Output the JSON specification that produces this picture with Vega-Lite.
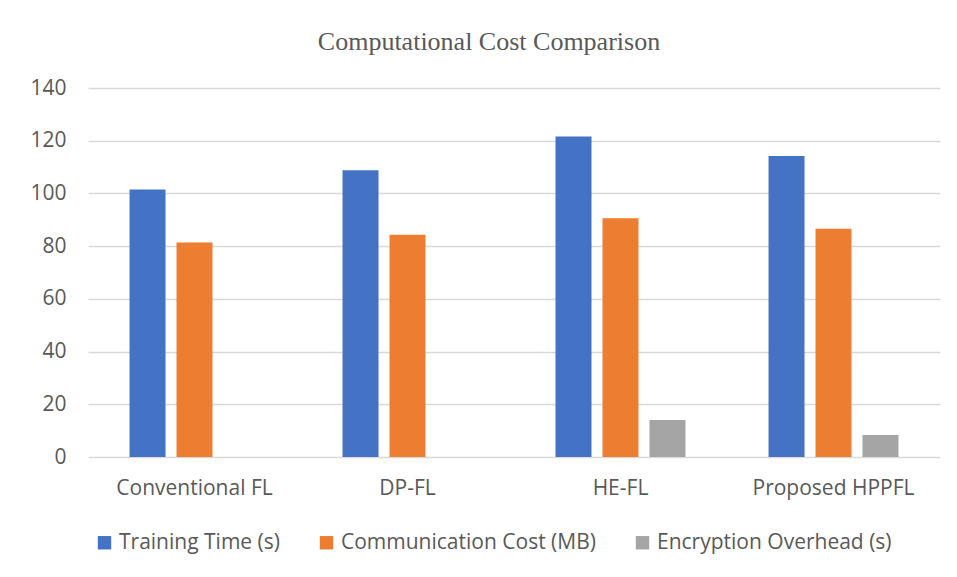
{
  "$schema": "https://vega.github.io/schema/vega-lite/v6.json",
  "width": 852,
  "height": 369,
  "autosize": "none",
  "padding": {"left": 88, "top": 88, "right": 17, "bottom": 120},
  "background": "white",
  "title": {
    "text": "Computational Cost Comparison",
    "font": "Liberation Serif",
    "fontSize": 26,
    "fontWeight": "normal",
    "color": "#595959",
    "anchor": "middle",
    "offset": 22,
    "dx": -25
  },
  "data": {
    "values": [
      {"method": "Conventional FL", "metric": "Training Time (s)", "value": 101.5},
      {"method": "Conventional FL", "metric": "Communication Cost (MB)", "value": 81.4},
      {"method": "Conventional FL", "metric": "Encryption Overhead (s)", "value": 0},
      {"method": "DP-FL", "metric": "Training Time (s)", "value": 108.8},
      {"method": "DP-FL", "metric": "Communication Cost (MB)", "value": 84.3},
      {"method": "DP-FL", "metric": "Encryption Overhead (s)", "value": 0},
      {"method": "HE-FL", "metric": "Training Time (s)", "value": 121.6},
      {"method": "HE-FL", "metric": "Communication Cost (MB)", "value": 90.6},
      {"method": "HE-FL", "metric": "Encryption Overhead (s)", "value": 14.0},
      {"method": "Proposed HPPFL", "metric": "Training Time (s)", "value": 114.2},
      {"method": "Proposed HPPFL", "metric": "Communication Cost (MB)", "value": 86.6},
      {"method": "Proposed HPPFL", "metric": "Encryption Overhead (s)", "value": 8.3}
    ]
  },
  "mark": {"type": "bar"},
  "encoding": {
    "x": {
      "field": "method",
      "type": "nominal",
      "sort": null,
      "title": null,
      "scale": {"paddingInner": 0.39, "paddingOuter": 0.195},
      "axis": {
        "labelAngle": 0,
        "labelFont": "Open Sans",
        "labelFontSize": 21,
        "labelColor": "#595959",
        "labelPadding": 20,
        "ticks": false,
        "domain": false,
        "grid": false
      }
    },
    "xOffset": {
      "field": "metric",
      "type": "nominal",
      "sort": ["Training Time (s)", "Communication Cost (MB)", "Encryption Overhead (s)"],
      "scale": {"paddingInner": 0.234, "paddingOuter": 0}
    },
    "y": {
      "field": "value",
      "type": "quantitative",
      "title": null,
      "scale": {"domain": [0, 140]},
      "axis": {
        "values": [0, 20, 40, 60, 80, 100, 120, 140],
        "labelFont": "Open Sans",
        "labelFontSize": 21,
        "labelColor": "#595959",
        "labelPadding": 22,
        "ticks": false,
        "domain": false,
        "gridColor": "#d9d9d9",
        "gridWidth": 1.5
      }
    },
    "color": {
      "field": "metric",
      "type": "nominal",
      "sort": ["Training Time (s)", "Communication Cost (MB)", "Encryption Overhead (s)"],
      "scale": {
        "domain": ["Training Time (s)", "Communication Cost (MB)", "Encryption Overhead (s)"],
        "range": ["#4472c4", "#ed7d31", "#a5a5a5"]
      },
      "legend": {
        "title": null,
        "orient": "none",
        "direction": "horizontal",
        "legendX": 6,
        "legendY": 444,
        "symbolType": "square",
        "symbolSize": 180,
        "symbolStrokeWidth": 0,
        "labelFont": "Open Sans",
        "labelFontSize": 21,
        "labelColor": "#595959",
        "labelOffset": 4,
        "labelLimit": 0,
        "columnPadding": 36
      }
    }
  },
  "config": {
    "view": {"stroke": null}
  }
}
